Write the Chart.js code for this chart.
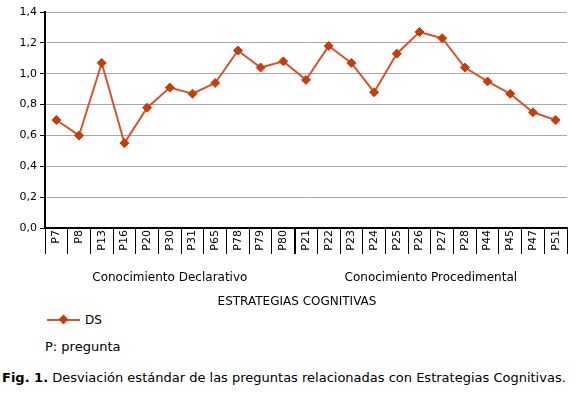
<!DOCTYPE html>
<html><head><meta charset="utf-8">
<script src="https://cdn.jsdelivr.net/npm/chart.js@4"></script>
<style>
html,body{margin:0;padding:0;background:#fff;}
#wrap{position:relative;width:580px;height:394px;font-family:"DejaVu Sans",Verdana,sans-serif;color:#000;overflow:hidden;}
#c{position:absolute;left:0;top:0;}
.t{position:absolute;font-size:12px;line-height:14px;white-space:nowrap;}
.t13{font-size:13px;line-height:16px;}
#legline{position:absolute;left:47px;top:319px;width:33px;height:2px;background:#d9542c;}
#legdia{position:absolute;left:60px;top:316px;width:7px;height:7px;background:#c63d0c;transform:rotate(45deg);}
</style></head>
<body>
<div id="wrap">
<canvas id="c" width="580" height="312"></canvas>
<div id="legline"></div><div id="legdia"></div>
<div class="t" style="left:85px;top:313px;">DS</div>
<div class="t t13" style="left:45px;top:339px;">P: pregunta</div>
<div class="t t13" style="left:2px;top:370px;"><b>Fig. 1.</b> Desviación estándar de las preguntas relacionadas con Estrategias Cognitivas.</div>
</div>
<script>
const categories = ['P7','P8','P13','P16','P20','P30','P31','P65','P78','P79','P80','P21','P22','P23','P24','P25','P26','P27','P28','P44','P45','P47','P51'];
const dsValues = [0.70,0.60,1.07,0.55,0.78,0.91,0.87,0.94,1.15,1.04,1.08,0.96,1.18,1.07,0.88,1.13,1.27,1.23,1.04,0.95,0.87,0.75,0.70];
const seriesName = 'DS';
const groupNames = ['Conocimiento Declarativo','Conocimiento Procedimental'];
const groupSizes = [11,12];
const axisTitle = 'ESTRATEGIAS COGNITIVAS';
const yMin = 0, yMax = 1.4, yStep = 0.2;

const FONT = '"DejaVu Sans", Verdana, sans-serif';
const groupBounds = [];
{ let s = 0; for (const n of groupSizes) { s += n; groupBounds.push(s); } }

const groupPlugin = {
  id: 'groups',
  afterDraw(chart) {
    const x = chart.scales.x, ctx = chart.ctx;
    const step = x.getPixelForValue(1) - x.getPixelForValue(0);
    ctx.save();
    ctx.font = '12px ' + FONT;
    ctx.fillStyle = '#000';
    ctx.textAlign = 'center';
    ctx.textBaseline = 'middle';
    let start = 0;
    groupNames.forEach((g, i) => {
      const end = groupBounds[i] - 1;
      const a = x.getPixelForValue(start) - step / 2;
      const b = x.getPixelForValue(end) + step / 2;
      ctx.fillText(g, (a + b) / 2, 278);
      start = groupBounds[i];
    });
    ctx.fillText(axisTitle, 297, 302);
    ctx.restore();
  }
};

new Chart(document.getElementById('c'), {
  type: 'line',
  data: {
    labels: categories,
    datasets: [{
      label: seriesName,
      data: dsValues,
      borderColor: '#d9542c',
      borderWidth: 2,
      pointStyle: 'rectRot',
      pointRadius: 4.5,
      pointBackgroundColor: '#c63d0c',
      pointBorderColor: '#c63d0c',
      pointBorderWidth: 1,
      tension: 0
    }]
  },
  options: {
    responsive: false,
    animation: false,
    devicePixelRatio: 1,
    layout: { padding: { left: 0, right: 13, top: 12, bottom: 0 } },
    plugins: { legend: { display: false }, tooltip: { enabled: false } },
    scales: {
      x: {
        type: 'category',
        offset: true,
        grid: {
          offset: true, display: true, drawOnChartArea: false, drawTicks: true,
          tickLength: 26, color: '#000',
          lineWidth: ctx => (groupBounds.includes(ctx.index) ? 2 : 1)
        },
        border: { display: true, color: '#000', width: 2 },
        ticks: { minRotation: 90, maxRotation: 90, autoSkip: false, padding: -24,
                 color: '#000', font: { family: FONT, size: 11 } },
        title: { display: false },
        afterFit(s) { s.height = 84; }
      },
      y: {
        min: yMin, max: yMax,
        ticks: { stepSize: yStep, color: '#000', padding: 3,
                 font: { family: FONT, size: 11 },
                 callback: v => Number(v).toFixed(1).replace('.', ',') },
        grid: { color: '#a8a8a8', lineWidth: 1, drawTicks: true, tickLength: 5, tickColor: '#000' },
        border: { display: true, color: '#000', width: 2 },
        afterFit(s) { s.width = 45; }
      }
    }
  },
  plugins: [groupPlugin]
});
</script>
</body></html>
